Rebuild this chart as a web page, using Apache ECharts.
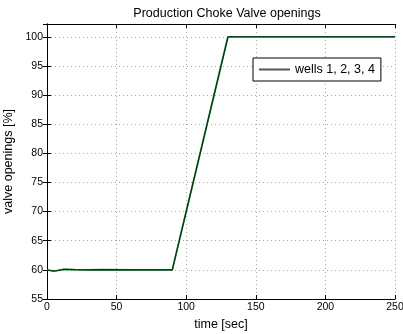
<!DOCTYPE html>
<html>
<head>
<meta charset="utf-8">
<script src="https://cdn.jsdelivr.net/npm/echarts@6/dist/echarts.min.js"></script>
<style>
  html, body { margin: 0; padding: 0; background: #fff; }
  #chart { width: 403px; height: 334px; }
</style>
</head>
<body>
<div id="chart"></div>
<script>
// Valve opening trajectory (same for all four wells)
const timeSec = [0, 2, 5, 8, 12, 20, 30, 40, 60, 90, 130, 180, 250];
const openingPct = [60, 59.9, 59.8, 59.9, 60.1, 60.05, 60.0, 60.05, 60.0, 60.0, 100, 100, 100];
const xTicks = [0, 50, 100, 150, 200, 250];
const yTicks = [55, 60, 65, 70, 75, 80, 85, 90, 95, 100];
const legendName = 'wells 1, 2, 3, 4';

const points = timeSec.map((t, i) => [t, openingPct[i]]);
const font = 'Liberation Sans, Arial, sans-serif';

const chart = echarts.init(document.getElementById('chart'), null, { renderer: 'canvas' });

const xBase = {
  type: 'value', min: 0, max: 250, interval: 50,
  axisLine: { lineStyle: { color: '#000', width: 1 } },
  axisTick: { inside: true, length: 4, lineStyle: { color: '#000' } },
  splitLine: { show: false }
};
const yBase = {
  type: 'value', min: 55, max: 102.2, interval: 5,
  axisLine: { lineStyle: { color: '#000', width: 1 } },
  axisTick: { inside: true, length: 4, lineStyle: { color: '#000' } },
  splitLine: { show: false }
};
const gridDots = { show: true, lineStyle: { color: '#a8a8a8', type: [1, 3], width: 1 } };

chart.setOption({
  animation: false,
  backgroundColor: '#fff',
  title: {
    text: 'Production Choke Valve openings',
    left: 222, top: 2, textAlign: 'center',
    textStyle: { fontFamily: font, fontSize: 12.5, fontWeight: 'normal', color: '#000' }
  },
  grid: {
    left: 47, right: 8, top: 24, bottom: 35,
    containLabel: false, outerBoundsMode: 'none'
  },
  legend: {
    data: [{ name: legendName }],
    left: 253, top: 58,
    padding: [5, 6, 5, 6],
    itemWidth: 31, itemHeight: 2, itemGap: 4,
    icon: 'rect',
    backgroundColor: '#fff',
    borderColor: '#000', borderWidth: 1, borderRadius: 0,
    textStyle: { fontFamily: font, fontSize: 12.5, color: '#000' }
  },
  xAxis: [
    Object.assign({}, xBase, {
      position: 'bottom',
      name: 'time [sec]', nameLocation: 'middle', nameGap: 17,
      nameTextStyle: { fontFamily: font, fontSize: 12.5, color: '#000' },
      axisLabel: { fontFamily: font, fontSize: 10.5, color: '#000', margin: 3 },
      splitLine: gridDots
    }),
    Object.assign({}, xBase, { position: 'top', axisLabel: { show: false } })
  ],
  yAxis: [
    Object.assign({}, yBase, {
      position: 'left',
      name: 'valve openings [%]', nameLocation: 'middle', nameGap: 26,
      nameTextStyle: { fontFamily: font, fontSize: 12.5, color: '#000' },
      axisLabel: {
        fontFamily: font, fontSize: 10.5, color: '#000', margin: 4,
        formatter: v => (yTicks.includes(v) ? String(v) : '')
      },
      splitLine: gridDots
    }),
    Object.assign({}, yBase, { position: 'right', axisLabel: { show: false } })
  ],
  series: [
    {
      name: 'green trace', type: 'line', data: points,
      showSymbol: false, silent: true,
      lineStyle: { color: '#18902c', width: 1.8 }, z: 2
    },
    {
      name: legendName, type: 'line', data: points,
      showSymbol: false,
      itemStyle: { color: '#555' },
      lineStyle: { color: '#0d2c1b', width: 1.1 }, z: 3
    }
  ]
});
</script>
</body>
</html>
